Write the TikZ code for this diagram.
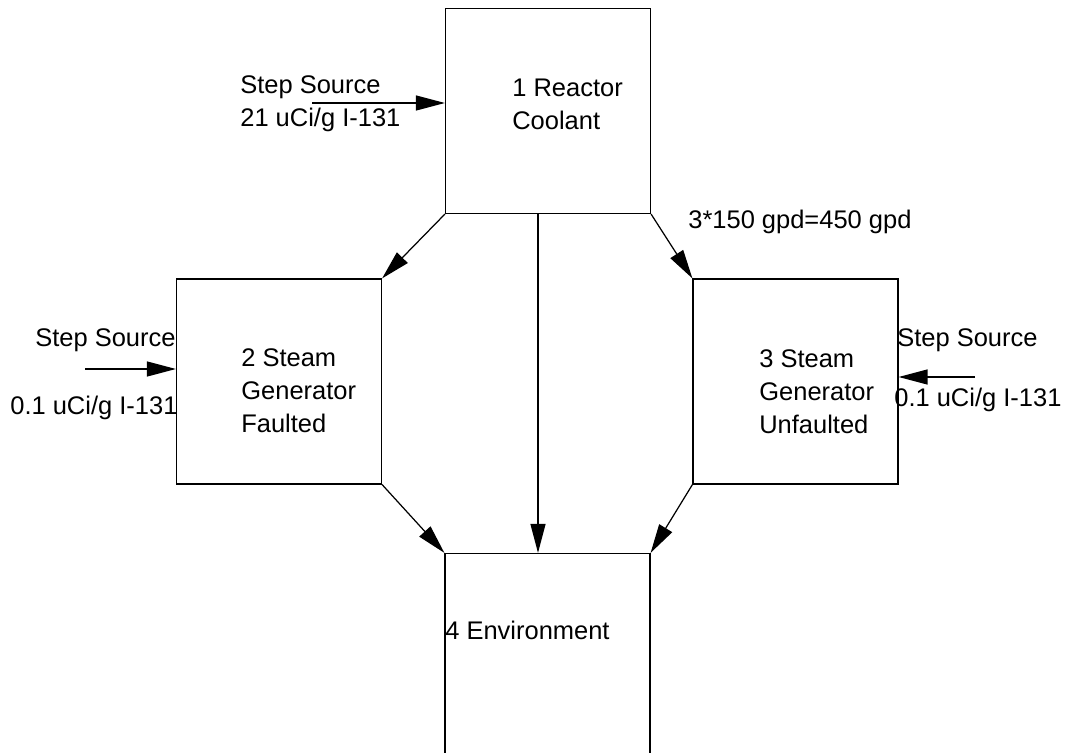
\documentclass[tikz,border=0pt]{standalone}
\usepackage{fontspec}
\setmainfont{Liberation Sans}
\usetikzlibrary{arrows.meta}

\begin{document}
\begin{tikzpicture}[x=0.02cm,y=-0.02cm,
		box/.style={draw,line width=0.7pt,minimum width=4.1cm,minimum height=4.1cm,inner sep=0pt},
		txt/.style={inner sep=0pt,align=left,anchor=west,font=\fontsize{14.5}{18.8}\selectfont},
		arr/.style={-{Triangle[length=0.58cm,width=0.3cm]},line width=0.7pt}]
			\useasboundingbox (0,0) rectangle (1066,753);
			\clip (0,0) rectangle (1066,753);
			\node[box] (b1) at (548,111){};
			\node[box] (b2) at (279,381.5){};
			\node[box] (b3) at (795.5,381.5){};
			\node[box] (b4) at (547.5,656){};
			\node[txt] (t1) at (512,104){1 Reactor\\Coolant};
			\node[txt] (t2) at (241,391){2 Steam\\Generator\\Faulted};
			\node[txt] (t3) at (759,392){3 Steam\\Generator\\Unfaulted};
			\node[txt] (t4) at (445,630){4 Environment};
			\node[txt] (src1) at (240,104){Step Source\\21 uCi/g I-131};
			\node[txt] (src2a) at (35,340){Step Source};
			\node[txt] (src2b) at (10,408){0.1 uCi/g I-131};
			\node[txt] (src3a) at (897,340){Step Source};
			\node[txt] (src3b) at (894,400){0.1 uCi/g I-131};
			\node[txt] (flow) at (688,222){3*150 gpd=450 gpd};
			\coordinate (s1) at (312,103);
			\coordinate (s2) at (85,369);
			\coordinate (s3) at (975,377);
			\coordinate (m) at (538,0);
			\draw[arr] (s1) -- (s1 -| b1.west);
			\draw[arr] (s2) -- (s2 -| b2.west);
			\draw[arr] (s3) -- (s3 -| b3.east);
			\draw[arr] (b1.south west) -- (b2.north east);
			\draw[arr] (b1.south east) -- (b3.north west);
			\draw[arr] (b1.south -| m) -- (b4.north -| m);
			\draw[arr] (b2.south east) -- (b4.north west);
			\draw[arr] (b3.south west) -- (b4.north east);
		\end{tikzpicture}
\end{document}
